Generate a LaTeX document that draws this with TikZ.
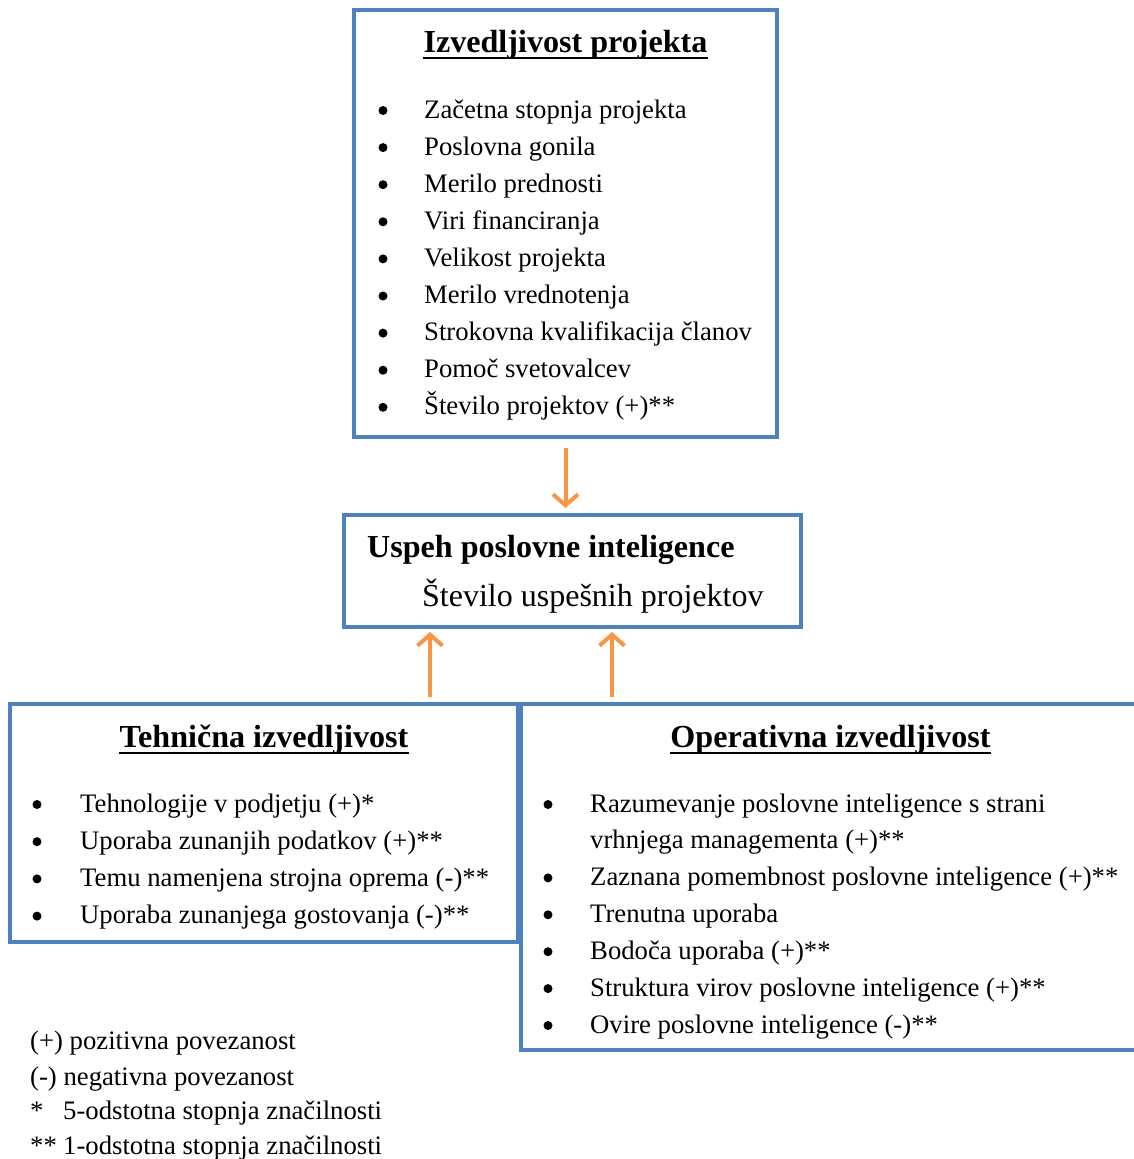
\documentclass[tikz,border=0pt]{standalone}
\usepackage{fontspec}
\setmainfont{Liberation Serif}
\usetikzlibrary{arrows.meta,calc}
\definecolor{boxblue}{HTML}{4F81BD}
\definecolor{arrorange}{HTML}{F79646}
\newcommand{\bodysize}{\fontsize{26.7}{37}\selectfont}
\newcommand{\headsize}{\fontsize{32.1}{38}\selectfont\bfseries}
\begin{document}
\begin{tikzpicture}[x=1pt,y=-1pt,
  box/.style={draw=boxblue,line width=4pt,fill=white,inner sep=0pt,outer sep=0pt,anchor=north west},
  txt/.style={anchor=base west,inner sep=0pt,font=\bodysize},
  head/.style={anchor=base,inner sep=0pt,font=\headsize},
  dot/.style={circle,fill=black,inner sep=0pt,minimum size=9pt},
  uline/.style={line width=2pt,black},
  arr/.style={draw=arrorange,line width=4pt,-{Straight Barb[length=11pt,width=25pt]}}]
\useasboundingbox (0,0) rectangle (1133,1159);

% boxes
\node[box,minimum width=423pt,minimum height=427pt] (top) at (354,10) {};
\node[box,minimum width=457pt,minimum height=112pt] (mid) at (344,515) {};
\node[box,minimum width=508pt,minimum height=238pt] (left) at (10,704) {};
\node[box,minimum width=620pt,minimum height=346pt] (right) at (521,704) {};

% project feasibility
\node[head] (h1) at (565.5,52) {Izvedljivost projekta};
\draw[uline] ([yshift=-5.5pt]h1.base west) -- ([yshift=-5.5pt]h1.base east);
\foreach \t [count=\i from 0] in {Začetna stopnja projekta,Poslovna gonila,Merilo prednosti,Viri financiranja,Velikost projekta,Merilo vrednotenja,Strokovna kvalifikacija članov,Pomoč svetovalcev,Število projektov (+)**}{
  \node[txt] (ti\i) at (424,118+37.1*\i) {\t};
  \node[dot] (tb\i) at (383,110.5+37.1*\i) {};
}

% BI success
\node[txt,font=\headsize] (m1) at (367,557) {Uspeh poslovne inteligence};
\node[txt,font=\fontsize{32}{38}\selectfont] (m2) at (422,606) {Število uspešnih projektov};

% technical feasibility
\node[head] (h2) at (264,747) {Tehnična izvedljivost};
\draw[uline] ([yshift=-5.5pt]h2.base west) -- ([yshift=-5.5pt]h2.base east);
\foreach \t [count=\i from 0] in {Tehnologije v podjetju (+)*,Uporaba zunanjih podatkov (+)**,Temu namenjena strojna oprema (-)**,Uporaba zunanjega gostovanja (-)**}{
  \node[txt] (li\i) at (80,812+37.2*\i) {\t};
  \node[dot] (lb\i) at (37,804.5+37.2*\i) {};
}

% operational feasibility
\node[head] (h3) at (830.5,747) {Operativna izvedljivost};
\draw[uline] ([yshift=-5.5pt]h3.base west) -- ([yshift=-5.5pt]h3.base east);
\node[txt] (ri0) at (590,812) {Razumevanje poslovne inteligence s strani};
\node[txt] (ri0b) at (590,848.5) {vrhnjega managementa (+)**};
\node[dot] (rb0) at (548,804.5) {};
\foreach \t [count=\i from 1] in {Zaznana pomembnost poslovne inteligence (+)**,Trenutna uporaba,Bodoča uporaba (+)**,Struktura virov poslovne inteligence (+)**,Ovire poslovne inteligence (-)**}{
  \node[txt] (ri\i) at (590,848.5+36.9*\i) {\t};
  \node[dot] (rb\i) at (548,841+36.9*\i) {};
}

% legend
\node[txt] (l1) at (30,1049) {(+) pozitivna povezanost};
\node[txt] (l2) at (30,1085) {(-) negativna povezanost};
\node[txt] (l3a) at (30,1119) {*};
\node[txt] (l3) at (63,1119) {5-odstotna stopnja značilnosti};
\node[txt] (l4a) at (30,1154) {**};
\node[txt] (l4) at (63,1154) {1-odstotna stopnja značilnosti};

% influence arrows
\coordinate (ax1) at (430,0);
\coordinate (ax2) at (612,0);
\draw[arr,shorten <=11pt,shorten >=7pt] (top.south) -- (top.south |- mid.north);
\draw[arr,shorten <=7pt,shorten >=5pt] (left.north -| ax1) -- (mid.south -| ax1);
\draw[arr,shorten <=7pt,shorten >=5pt] (right.north -| ax2) -- (mid.south -| ax2);
\end{tikzpicture}
\end{document}
